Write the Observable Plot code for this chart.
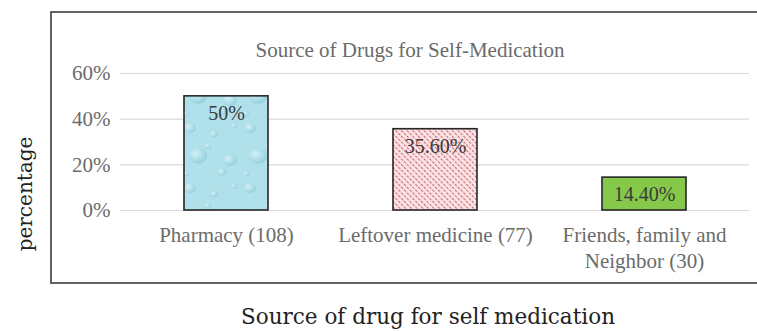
<!DOCTYPE html>
<html>
<head>
<meta charset="utf-8">
<script src="https://cdn.jsdelivr.net/npm/d3@7"></script>
<script src="https://cdn.jsdelivr.net/npm/@observablehq/plot@0.6"></script>
<style>
  html, body { margin: 0; padding: 0; background: #fff; }
  #chart { width: 757px; height: 331px; }
</style>
</head>
<body>
<div id="chart"></div>
<script>
// ---- data ----
const categories = ["Pharmacy (108)", "Leftover medicine (77)", "Friends, family and\nNeighbor (30)"];
const values = [0.50, 0.356, 0.144];
const valueLabels = ["50%", "35.60%", "14.40%"];
const yTicks = [0, 0.2, 0.4, 0.6];
const chartTitle = "Source of Drugs for Self-Medication";
const xTitle = "Source of drug for self medication";
const yTitle = "percentage";

const rows = categories.map((c, i) => ({cat: c, value: values[i], label: valueLabels[i]}));
const barFills = ["url(#water)", "url(#dots)", "#86c94a"];

const serif = "'Liberation Serif', 'Times New Roman', serif";
const axisFont = "'DejaVu Serif', serif";

const plot = Plot.plot({
  width: 757,
  height: 331,
  marginLeft: 120,
  marginRight: 8,
  marginTop: 73,
  marginBottom: 121,
  style: {fontFamily: serif, background: "#fff", overflow: "visible"},
  x: {domain: categories, paddingInner: 0.6, paddingOuter: 0.3, axis: null},
  y: {domain: [0, 0.6], axis: null},
  color: {domain: categories, range: barFills},
  marks: [
    Plot.gridY(yTicks, {stroke: "#d9d9d9", strokeOpacity: 1, strokeWidth: 1.2}),
    Plot.axisY(yTicks, {
      tickSize: 0, tickPadding: 10, tickFormat: d => Math.round(d * 100) + "%",
      fontSize: 21, fill: "#6b6b6b", label: null, fontFamily: serif
    }),
    Plot.barY(rows, {x: "cat", y: "value", fill: "cat", stroke: "#262626", strokeWidth: 1.6}),
    Plot.text(rows, {x: "cat", y: "value", text: "label", dy: 17, fontSize: 20, fill: "#3a3a3a", fontFamily: serif}),
    Plot.text(rows, {x: "cat", y: () => 0, text: "cat", dy: 14, lineAnchor: "top", lineHeight: 1.2, fontSize: 21, fill: "#6b6b6b", fontFamily: serif}),
    Plot.text([chartTitle], {frameAnchor: "top", dy: -31, dx: -25, fontSize: 21, fill: "#6b6b6b", fontFamily: serif}),
    Plot.text([yTitle], {frameAnchor: "left", textAnchor: "middle", lineAnchor: "middle", dx: -95, dy: 52, rotate: -90, fontSize: 20, fill: "#222", fontFamily: axisFont}),
    Plot.text([xTitle], {frameAnchor: "bottom", dy: 113, dx: -7, fontSize: 21.5, fill: "#222", fontFamily: axisFont})
  ]
});

// pattern definitions and chart-area box
const svg = d3.select(plot);
const defs = svg.insert("defs", ":first-child");

// watery texture
const rg = defs.append("radialGradient").attr("id", "drop").attr("cx", "35%").attr("cy", "35%").attr("r", "65%");
rg.append("stop").attr("offset", "0%").attr("stop-color", "#e2f6fa");
rg.append("stop").attr("offset", "70%").attr("stop-color", "#a6dae6");
rg.append("stop").attr("offset", "100%").attr("stop-color", "#8ccbd9");
const water = defs.append("pattern").attr("id", "water").attr("patternUnits", "userSpaceOnUse")
  .attr("width", 60).attr("height", 60);
water.append("rect").attr("width", 60).attr("height", 60).attr("fill", "#b0e0ea");
[[10, 8, 6], [34, 14, 4], [50, 40, 7], [18, 36, 9], [42, 52, 4], [6, 54, 3], [54, 6, 3], [28, 26, 3]].forEach(([cx, cy, r]) => {
  water.append("ellipse").attr("cx", cx).attr("cy", cy).attr("rx", r).attr("ry", r * 0.85).attr("fill", "url(#drop)").attr("opacity", 0.7);
});

// pink dotted texture
const dots = defs.append("pattern").attr("id", "dots").attr("patternUnits", "userSpaceOnUse")
  .attr("width", 4).attr("height", 4).attr("patternTransform", "rotate(45)");
dots.append("rect").attr("width", 4).attr("height", 4).attr("fill", "#fbe1e4");
dots.append("rect").attr("x", 0).attr("y", 0).attr("width", 2.5).attr("height", 1).attr("fill", "#c4616b");

// outer chart box
svg.append("rect").attr("x", 51).attr("y", 12).attr("width", 720).attr("height", 271)
  .attr("fill", "none").attr("stroke", "#3c3c3c").attr("stroke-width", 1.6);

document.getElementById("chart").appendChild(plot);
</script>
</body>
</html>
